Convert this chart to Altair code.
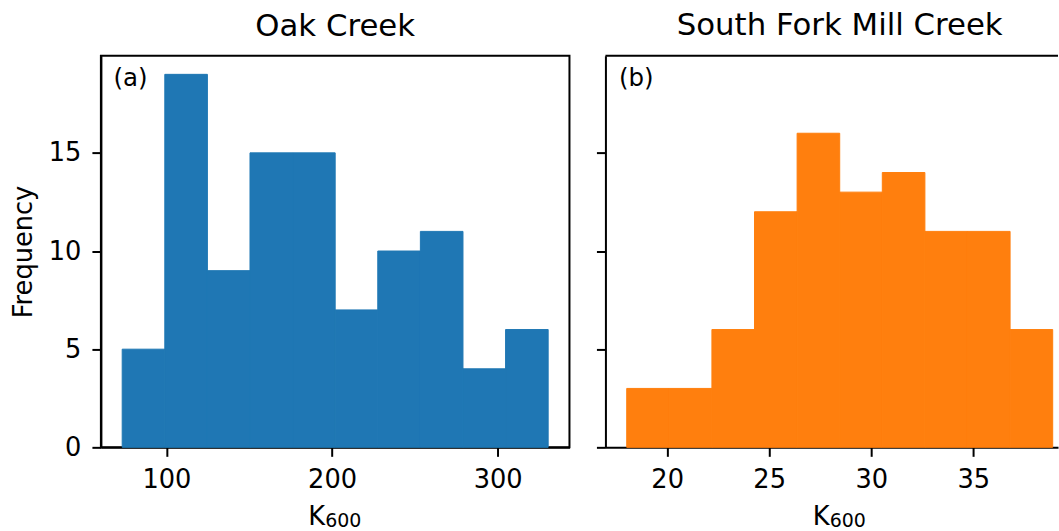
import altair as alt
import numpy as np
import pandas as pd

# Oak Creek: 10 equal-width bins between these limits
oak_range = (73.3, 330.5)
oak_counts = [5, 19, 9, 15, 15, 7, 10, 11, 4, 6]

# South Fork Mill Creek: 10 equal-width bins between these limits
sfm_range = (18.02, 38.89)
sfm_counts = [3, 3, 6, 12, 16, 13, 14, 11, 11, 6]

panel_titles = ["Oak Creek", "South Fork Mill Creek"]
panel_tags = ["(a)", "(b)"]
oak_ticks = [100, 200, 300]
sfm_ticks = [20, 25, 30, 35]
freq_ticks = [0, 5, 10, 15]
x_label = ("K", "600")  # K with subscript 600

FONT = "DejaVu Sans"
BLUE = "#1f77b4"
ORANGE = "#ff7f0e"

H = 392
W_LEFT = 469
W_RIGHT = 453  # right panel runs off the page edge
Y_DOMAIN = [0, 19.95]


def hist_frame(rng, counts):
    edges = np.linspace(rng[0], rng[1], len(counts) + 1)
    return pd.DataFrame({"lo": edges[:-1], "hi": edges[1:], "count": counts})


def padded(rng):
    m = 0.05 * (rng[1] - rng[0])
    return [rng[0] - m, rng[1] + m]


def text_layer(text, x, y, size):
    return alt.Chart(pd.DataFrame({"t": [text]})).mark_text(
        align="left", baseline="alphabetic", font=FONT, fontSize=size, color="black"
    ).encode(x=alt.value(x), y=alt.value(y), text="t:N")


def k600_title():
    # x-axis title drawn as K plus a smaller, lowered 600
    return [text_layer(x_label[0], 207.5, H + 78, 25.7),
            text_layer(x_label[1], 224.5, H + 79.5, 19)]


oak_df = hist_frame(oak_range, oak_counts)
sfm_df = hist_frame(sfm_range, sfm_counts)

oak_dom = padded(oak_range)
sfm_full = padded(sfm_range)
sfm_dom = [sfm_full[0], sfm_full[0] + (sfm_full[1] - sfm_full[0]) * W_RIGHT / W_LEFT]

# ---- left panel -------------------------------------------------------------
oak_bars = alt.Chart(oak_df).mark_rect(color=BLUE, stroke=BLUE, strokeWidth=1).encode(
    x=alt.X("lo:Q", scale=alt.Scale(domain=oak_dom, nice=False, zero=False),
            axis=alt.Axis(values=oak_ticks, title=None)),
    x2="hi:Q",
    y=alt.Y("count:Q", scale=alt.Scale(domain=Y_DOMAIN, nice=False),
            axis=alt.Axis(values=freq_ticks, title="Frequency", titlePadding=12)),
    y2=alt.datum(0),
)

left = alt.layer(
    oak_bars, text_layer(panel_tags[0], 12.5, 30, 24.5), *k600_title()
).properties(width=W_LEFT, height=H, title=alt.TitleParams(panel_titles[0]))

# ---- right panel ------------------------------------------------------------
sfm_bars = alt.Chart(sfm_df).mark_rect(color=ORANGE, stroke=ORANGE, strokeWidth=1).encode(
    x=alt.X("lo:Q", scale=alt.Scale(domain=sfm_dom, nice=False, zero=False),
            axis=alt.Axis(values=sfm_ticks, title=None)),
    x2="hi:Q",
    y=alt.Y("count:Q", scale=alt.Scale(domain=Y_DOMAIN, nice=False),
            axis=alt.Axis(values=freq_ticks, labels=False, title=None)),
    y2=alt.datum(0),
)
# top edge of the frame (left and bottom edges come from the axis lines)
sfm_top = alt.Chart(pd.DataFrame({"k": [0]})).mark_rule(
    color="black", strokeWidth=2
).encode(x=alt.value(0), x2=alt.value(W_RIGHT), y=alt.value(0))

right = alt.layer(
    sfm_bars, text_layer(panel_tags[1], 13.5, 30, 24.5), sfm_top, *k600_title(),
    view=alt.ViewBackground(stroke="transparent", strokeWidth=0),
).properties(
    width=W_RIGHT, height=H,
    title=alt.TitleParams(panel_titles[1], dx=(W_LEFT - W_RIGHT) / 2),
)

chart = alt.hconcat(left, right, spacing=36, bounds="flush").properties(
    padding={"left": 9, "top": 9.5, "right": 0, "bottom": 0},
    background="white",
).configure_view(
    stroke="black", strokeWidth=2
).configure_axis(
    grid=False,
    domainColor="black", domainWidth=2,
    tickColor="black", tickWidth=2, tickSize=9,
    labelFont=FONT, labelFontSize=25.7, labelColor="black", labelPadding=11,
    titleFont=FONT, titleFontSize=25.7, titleColor="black", titleFontWeight="normal",
).configure_title(
    font=FONT, fontSize=30.8, fontWeight="normal", color="black",
    anchor="middle", frame="group", offset=13, baseline="alphabetic",
)

chart.save("out.html", embed_options={"renderer": "svg", "actions": False})
